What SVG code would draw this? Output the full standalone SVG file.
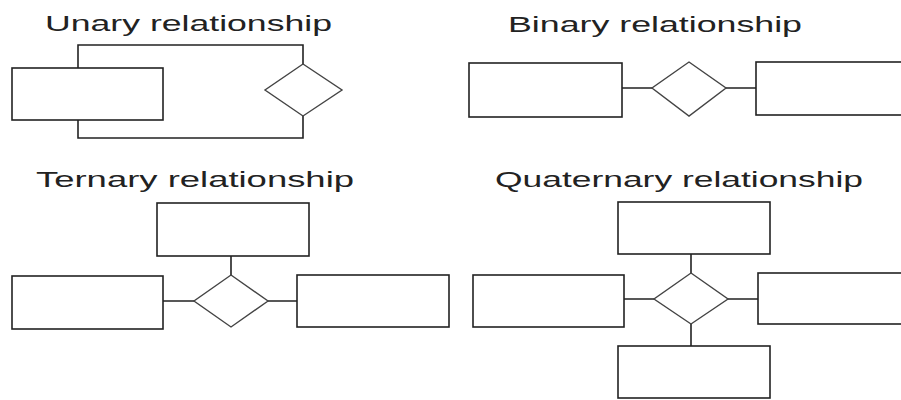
<svg xmlns="http://www.w3.org/2000/svg" width="901" height="400" viewBox="0 0 901 400">
<style>
.t{font-family:"Liberation Sans",Arial,sans-serif;font-size:22px;fill:#222}
.e{fill:#fff;stroke:#222;stroke-width:1.6}
.r{fill:#fff;stroke:#444;stroke-width:1.4}
.c{fill:none;stroke:#222;stroke-width:1.6}
</style>
<rect width="901" height="400" fill="#fff"/>
<text class="t" x="45" y="31" textLength="287" lengthAdjust="spacingAndGlyphs">Unary relationship</text>
<text class="t" x="508" y="32" textLength="294" lengthAdjust="spacingAndGlyphs">Binary relationship</text>
<text class="t" x="36" y="187" textLength="318" lengthAdjust="spacingAndGlyphs">Ternary relationship</text>
<text class="t" x="495" y="187" textLength="368" lengthAdjust="spacingAndGlyphs">Quaternary relationship</text>
<g id="connectors">
<path class="c" d="M78,68 V45 H303 V64"/>
<path class="c" d="M78,120 V138 H303 V116"/>
<path class="c" d="M622,88 H652 M726,88 H756"/>
<path class="c" d="M231,256 V275 M163,301 H194 M268,301 H297"/>
<path class="c" d="M691,254 V273 M691,324 V346 M624,299 H654 M728,299 H758"/>
</g>
<g id="unary-entity"><rect class="e" x="12" y="68" width="151" height="52"/></g>
<g id="unary-rel"><polygon class="r" points="303,64 342,90 303,116 265,90"/></g>
<g id="binary-entity-1"><rect class="e" x="469" y="63" width="153" height="54"/></g>
<g id="binary-rel"><polygon class="r" points="689,62 726,88 689,116 652,88"/></g>
<g id="binary-entity-2"><rect class="e" x="756" y="62" width="150" height="53"/></g>
<g id="ternary-top"><rect class="e" x="157" y="203" width="152" height="53"/></g>
<g id="ternary-left"><rect class="e" x="12" y="276" width="151" height="53"/></g>
<g id="ternary-right"><rect class="e" x="297" y="275" width="152" height="52"/></g>
<g id="ternary-rel"><polygon class="r" points="231,275 268,301 231,327 194,301"/></g>
<g id="quat-top"><rect class="e" x="618" y="202" width="152" height="52"/></g>
<g id="quat-left"><rect class="e" x="473" y="275" width="151" height="52"/></g>
<g id="quat-right"><rect class="e" x="758" y="273" width="150" height="51"/></g>
<g id="quat-bottom"><rect class="e" x="618" y="346" width="152" height="52"/></g>
<g id="quat-rel"><polygon class="r" points="691,273 728,299 691,324 654,299"/></g>
</svg>
